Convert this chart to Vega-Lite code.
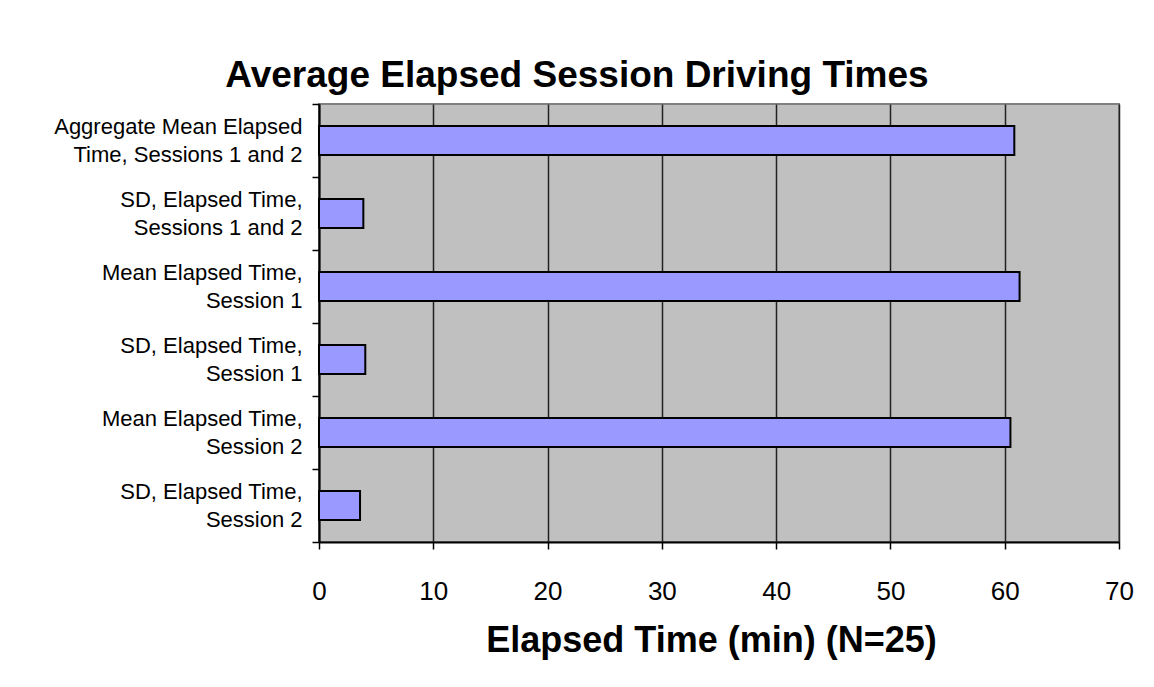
{
  "$schema": "https://vega.github.io/schema/vega-lite/v6.json",
  "width": 800,
  "height": 438,
  "autosize": {"type": "none"},
  "padding": {"left": 319, "top": 104, "right": 35, "bottom": 145},
  "background": "white",
  "title": {
    "text": "Average Elapsed Session Driving Times",
    "font": "Liberation Sans",
    "fontSize": 37,
    "fontWeight": "bold",
    "color": "black",
    "anchor": "middle",
    "dx": -142,
    "offset": -2
  },
  "data": {
    "values": [
      {"category": "Aggregate Mean Elapsed|Time, Sessions 1 and 2", "minutes": 60.84},
      {"category": "SD, Elapsed Time,|Sessions 1 and 2", "minutes": 3.88},
      {"category": "Mean Elapsed Time,|Session 1", "minutes": 61.3},
      {"category": "SD, Elapsed Time,|Session 1", "minutes": 4.05},
      {"category": "Mean Elapsed Time,|Session 2", "minutes": 60.5},
      {"category": "SD, Elapsed Time,|Session 2", "minutes": 3.59}
    ]
  },
  "mark": {"type": "bar", "color": "#9999FF", "stroke": "black", "strokeWidth": 2, "height": {"band": 0.4}},
  "encoding": {
    "y": {
      "field": "category",
      "type": "nominal",
      "sort": null,
      "scale": {"paddingInner": 0, "paddingOuter": 0},
      "axis": {
        "title": null,
        "labelExpr": "split(datum.label, '|')",
        "labelFont": "Liberation Sans",
        "labelFontSize": 22,
        "labelColor": "black",
        "labelLineHeight": 28,
        "labelAlign": "right",
        "labelBaseline": "middle",
        "labelOffset": -14,
        "labelLimit": 0,
        "labelPadding": 10,
        "tickBand": "extent",
        "tickSize": 7,
        "tickColor": "black",
        "tickWidth": 1.5,
        "domainColor": "black",
        "domainWidth": 2,
        "grid": false
      }
    },
    "x": {
      "field": "minutes",
      "type": "quantitative",
      "scale": {"domain": [0, 70], "nice": false},
      "axis": {
        "title": "Elapsed Time (min) (N=25)",
        "titleFont": "Liberation Sans",
        "titleFontSize": 36,
        "titleFontWeight": "bold",
        "titleColor": "black",
        "titlePadding": 19,
        "titleX": 392,
        "titleAnchor": "middle",
        "values": [0, 10, 20, 30, 40, 50, 60, 70],
        "labelFont": "Liberation Sans",
        "labelFontSize": 26,
        "labelColor": "black",
        "labelPadding": 29,
        "labelFlush": false,
        "tickSize": 7,
        "tickColor": "black",
        "tickWidth": 1.5,
        "domainColor": "black",
        "domainWidth": 2,
        "grid": true,
        "gridColor": "#222222",
        "gridWidth": 1.5
      }
    }
  },
  "config": {
    "view": {"fill": "#C0C0C0", "stroke": "#808080", "strokeWidth": 2}
  }
}
